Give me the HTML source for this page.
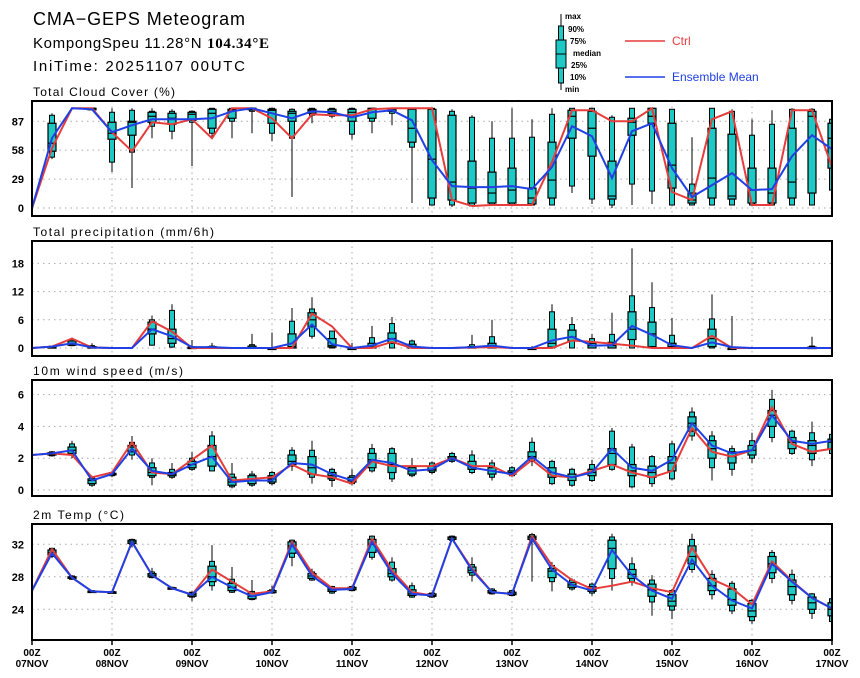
<!DOCTYPE html>
<html><head><meta charset="utf-8"><style>
html,body{margin:0;padding:0;background:#fff;}
svg{display:block;font-family:"Liberation Sans",sans-serif;}
</style></head><body>
<svg id="chart" width="860" height="678" viewBox="0 0 860 678" xmlns="http://www.w3.org/2000/svg">
<rect width="860" height="678" fill="#fff"/>
<text x="33" y="25" font-size="18" textLength="212" lengthAdjust="spacing">CMA−GEPS Meteogram</text>
<text x="33" y="48" font-size="15" textLength="236" lengthAdjust="spacing">KompongSpeu 11.28°N <tspan font-family="Liberation Serif" font-weight="bold">104.34°E</tspan></text>
<text x="33" y="71" font-size="15" textLength="212" lengthAdjust="spacing">IniTime: 20251107 00UTC</text>
<g>
 <line x1="561" y1="14" x2="561" y2="90" stroke="#000" stroke-width="1"/>
 <rect x="558.5" y="26" width="5" height="57" fill="#1ec8c4" stroke="#000"/>
 <rect x="556" y="40" width="10" height="28" fill="#1ec8c4" stroke="#000"/>
 <line x1="556" y1="54" x2="566" y2="54" stroke="#000"/>
 <g font-size="8" font-weight="bold">
 <text x="565" y="19">max</text><text x="568" y="32">90%</text><text x="570" y="44">75%</text>
 <text x="573" y="56">median</text><text x="571" y="68">25%</text><text x="570" y="80">10%</text><text x="565" y="92">min</text></g>
 <line x1="625" y1="41" x2="665" y2="41" stroke="#e63c3c" stroke-width="1.5"/>
 <text x="672" y="45" font-size="12" fill="#e63c3c">Ctrl</text>
 <line x1="625" y1="77" x2="665" y2="77" stroke="#2040e6" stroke-width="1.5"/>
 <text x="672" y="81" font-size="12" fill="#2040e6">Ensemble Mean</text>
</g>
<g id="plots"></g>
</svg>
<script>
// ---- Cloud cover data ----
const cloudMin=[0,49,100,98,36,20,70,69,42,70,70,75,67,11,85,90,69,75,83,5,3,1,2,3,2,2,3,15,4,0,3,4,3,3,3,3,3,3,3,3,3];
const cloudP10=[0,51,100,99,46,56,82,77,86,75,87,97,75,70,93,92,74,87,95,61,3,3,2,3,3,3,3,22,9,3,24,17,3,3,3,3,3,3,3,3,18];
const cloudP25=[0,57,100,100,69,73,86,84,88,80,90,99,85,87,95,95,87,90,97,66,10,8,5,5,5,4,10,70,52,9,73,85,20,5,10,9,5,5,10,15,40];
const cloudMed=[0,65,100,100,75,86,92,90,94,95,98,100,98,95,98,97,96,99,99,80,49,26,20,15,18,10,28,92,80,12,86,92,43,8,30,12,18,15,26,92,70];
const cloudP75=[0,85,100,100,86,87,96,95,96,99,99,100,99,97,99,99,99,100,100,99,99,93,47,36,40,20,66,98,97,47,90,100,85,15,80,74,40,40,80,97,85];
const cloudP90=[0,93,100,100,96,98,97,97,97,100,100,100,100,99,100,100,100,100,100,100,100,97,91,70,70,71,94,100,100,91,100,100,99,24,100,97,73,84,99,99,89];
const cloudMax=[0,95,100,100,100,100,100,99,98,100,100,100,100,100,100,100,100,100,100,100,100,99,93,87,100,89,100,100,100,93,100,100,99,71,100,99,89,98,100,100,95];
const cloudCtrl=[0,60,100,100,76,57,86,84,89,70,100,100,90,70,94,93,93,99,100,100,100,8,2,3,3,3,46,98,98,87,87,100,16,8,89,97,3,3,98,98,41];
const cloudMean=[0,70,100,99,76,83,89,89,89,90,97,100,95,90,97,96,91,96,98,88,48,22,21,21,22,19,41,82,72,30,77,85,40,11,23,35,18,19,52,73,59];
// ---- Precipitation data ----
const precMin=[0,0.1,0.4,0,0,0,0.5,0,0,0,0,0,0,0,2,0,0,0,0,0,0,0,0,0,0,0,0,0,0,0,0,0,0,0,0,0,0,0,0,0,0];
const precP10=[0,0.2,0.5,0,0,0,0.6,0.2,0,0,0,0,0,0,2.5,0,0,0,0,0,0,0,0,0,0,0,0,0,0,0,0,0,0,0,0,0,0,0,0,0,0];
const precP25=[0,0.2,0.6,0,0,0,3,1,0,0,0,0,0,0,4.5,0.2,0,0,1,0,0,0,0,0,0,0,0.2,1.5,0,0,1.8,0.3,0,0,0.3,0,0,0,0,0,0];
const precMed=[0,0.3,1,0.1,0,0,4,2,0.1,0.1,0,0.1,0,0.3,6,0.5,0,0.3,2,0.2,0,0,0.1,0.3,0,0,1,2.3,0.5,0.5,4,3,0.3,0,2,0,0,0,0,0.1,0];
const precP75=[0,0.3,1.5,0.3,0,0,5.5,4,0.2,0.3,0,0.4,0,3,7.5,2,0,1,3.2,0.8,0,0,0.3,1,0,0,4,3.8,1,1.2,7.7,5.5,1,0,4,0,0,0,0,0.2,0];
const precP90=[0,0.4,1.8,0.5,0,0,6,8,0.3,0.4,0,0.7,0,5.7,8.3,3.6,0,2.2,5.2,1.5,0,0,0.7,2.4,0,0,7.7,5,2,2.9,11.1,8.6,2.7,0,6.2,0.1,0,0,0,0.4,0];
const precMax=[0,0.5,2.2,1,0,0,6.9,9.3,1.7,1.1,0,3,3.3,8.5,10.8,3.6,1.1,4.7,6.6,1.8,0,0,2.8,6,0,0.4,9.3,6.6,3,7.5,21.2,14,6.4,0,11.4,6.8,0,0,0,2.4,0];
const precCtrl=[0,0.3,2,0.1,0,0,5.7,3.5,0,0,0,0,0,0,7.3,4.6,0,0,1.3,0,0,0,0.1,0.2,0,0,0,1.6,1.3,0.9,0.5,0,0,0,2.6,0,0,0,0,0,0];
const precMean=[0,0.3,1,0.1,0,0,4,2.5,0.2,0.2,0,0,0,1,5,0.8,0,0.5,2,0.3,0,0,0.2,0.5,0,0,1.6,2.4,0.5,0.6,4.7,2.8,0.6,0,1.2,0.2,0,0,0,0,0];
// ---- Wind data ----
const windMin=[2.2,2.1,2.0,0.2,0.8,1.9,0.3,0.7,1.2,1.2,0.1,0.2,0.3,1.2,0.4,0.2,0.3,1.1,0.5,0.8,1.0,1.7,1.0,0.6,0.8,1.5,0.3,0.2,0.5,1.2,0.1,0.2,0.6,3.1,0.6,0.9,1.7,3.0,2.2,1.5,2.0];
const windP10=[2.2,2.15,2.2,0.3,0.9,2.2,0.8,0.8,1.3,1.2,0.2,0.3,0.4,1.5,0.8,0.6,0.4,1.2,0.7,0.9,1.1,1.8,1.1,0.8,0.9,1.8,0.4,0.3,0.6,1.3,0.2,0.4,0.7,3.4,1.4,1.3,2.0,3.3,2.3,1.9,2.3];
const windP25=[2.2,2.2,2.3,0.4,0.95,2.4,0.9,0.9,1.4,1.5,0.3,0.4,0.5,1.6,1.0,0.7,0.5,1.4,1.1,1.0,1.2,1.9,1.3,1.0,1.0,2.0,0.8,0.6,0.9,1.6,0.9,0.8,1.2,3.7,2.0,1.7,2.2,4.0,2.6,2.3,2.6];
const windMed=[2.2,2.3,2.5,0.6,1.0,2.7,1.1,1.0,1.6,2.1,0.5,0.6,0.7,1.8,1.4,0.9,0.6,1.9,1.6,1.2,1.3,2.0,1.5,1.2,1.1,2.1,1.1,0.8,1.1,2.3,1.2,1.1,1.7,4.2,2.6,2.1,2.5,4.7,3.0,2.8,3.0];
const windP75=[2.2,2.35,2.7,0.7,1.05,2.8,1.4,1.1,1.8,2.8,0.8,0.9,0.9,2.2,2.1,1.1,0.8,2.3,2.3,1.4,1.5,2.1,1.8,1.4,1.2,2.4,1.4,1.0,1.3,2.6,1.6,1.5,2.1,4.6,3.1,2.4,2.8,5.0,3.3,3.1,3.2];
const windP90=[2.2,2.4,2.9,0.8,1.1,3.0,1.7,1.3,2.0,3.4,1.0,1.0,1.1,2.5,2.5,1.3,0.9,2.6,2.6,1.5,1.7,2.3,2.2,1.7,1.4,3.0,1.8,1.3,1.6,3.7,2.7,2.1,2.9,4.9,3.4,2.6,3.1,5.7,3.7,3.6,3.5];
const windMax=[2.2,2.45,3.1,0.9,1.2,3.4,2.0,1.7,2.4,3.7,1.7,1.2,1.2,2.7,3.1,1.4,1.3,2.9,2.7,2.0,1.8,2.4,2.5,1.9,1.5,3.3,1.9,1.4,1.9,3.9,2.9,2.2,3.1,5.2,3.7,2.8,3.6,6.3,3.8,4.3,3.9];
const windCtrl=[2.2,2.3,2.2,0.8,1.1,3.0,1.1,1.0,1.9,2.8,0.6,0.7,0.8,1.6,1.0,0.8,0.4,1.8,1.5,1.5,1.5,2.0,1.5,1.5,0.9,1.9,0.9,0.8,1.2,1.6,1.1,0.8,1.2,3.9,2.4,2.1,2.5,5.2,2.9,2.4,2.6];
const windMean=[2.2,2.3,2.5,0.6,1.0,2.6,1.2,1.0,1.6,2.1,0.5,0.6,0.6,1.7,1.6,1.0,0.6,1.9,1.7,1.2,1.3,2.0,1.4,1.2,1.0,2.1,1.1,0.8,1.1,2.6,1.4,1.2,1.9,4.2,2.8,2.3,2.5,4.7,3.1,2.9,3.1];
// ---- Temperature data ----
const tempMin=[26.3,30.3,27.6,26.1,26.0,31.6,27.8,26.5,25.0,26.3,26.0,25.1,25.9,29.3,27.5,25.9,26.2,30.1,27.4,25.4,25.4,32.4,27.4,25.8,25.6,27.4,26.2,26.3,25.7,26.3,26.9,23.2,22.8,28.5,25.2,23.4,22.2,27.2,24.6,22.8,22.3];
const tempP10=[26.3,30.5,27.7,26.1,26.0,32.0,27.9,26.5,25.5,26.9,26.1,25.2,26.0,30.4,27.6,26.0,26.3,30.4,27.6,25.5,25.5,32.5,28.2,25.9,25.7,32.5,27.4,26.5,26.0,27.8,27.4,24.9,23.9,28.9,25.8,23.8,22.6,27.8,25.1,23.5,22.5];
const tempP25=[26.3,30.7,27.8,26.15,26.05,32.1,28.0,26.55,25.6,27.4,26.3,25.3,26.05,30.9,27.8,26.2,26.4,31.0,28.0,25.7,25.6,32.6,28.5,26.0,25.8,32.6,27.9,26.7,26.2,29.0,27.8,25.6,24.4,29.6,26.3,24.5,23.1,28.5,25.8,24.0,23.2];
const tempMed=[26.3,31.0,27.9,26.2,26.1,32.3,28.2,26.6,25.8,28.0,26.7,25.6,26.1,31.8,28.1,26.4,26.5,32.0,28.4,25.9,25.7,32.8,28.8,26.1,25.9,32.8,28.7,27.0,26.4,31.5,28.3,26.4,25.0,30.5,26.9,25.2,23.8,29.6,26.8,24.8,24.0];
const tempP75=[26.3,31.3,28.0,26.25,26.15,32.5,28.4,26.65,26.0,29.3,27.2,26.0,26.3,32.3,28.4,26.6,26.7,32.6,29.0,26.4,25.9,32.9,29.2,26.3,26.1,33.0,29.0,27.3,26.8,32.5,28.9,27.1,25.8,31.8,27.8,26.5,24.7,30.5,27.6,25.5,24.8];
const tempP90=[26.3,31.5,28.1,26.3,26.2,32.6,28.6,26.7,26.1,29.9,27.7,26.2,26.4,32.5,28.6,26.8,26.8,33.0,29.8,26.9,26.0,33.0,29.5,26.5,26.3,33.2,29.4,27.6,27.1,32.9,29.6,27.6,26.3,32.6,28.3,27.2,25.1,31.0,28.3,25.9,25.3];
const tempMax=[26.3,31.6,28.2,26.3,26.2,32.7,29.1,26.8,26.2,31.9,29.2,27.6,26.9,32.6,29.0,26.9,26.9,33.1,30.4,27.3,26.1,33.1,30.4,26.6,26.4,33.4,29.8,27.8,27.3,33.3,30.4,28.2,26.5,33.3,28.8,27.5,25.3,31.3,28.9,26.0,25.5];
const tempCtrl=[26.3,31.4,27.9,26.2,26.1,32.3,28.2,26.6,25.8,28.9,27.4,25.9,26.2,32.3,28.5,26.6,26.6,32.7,28.8,26.1,25.7,32.7,29.0,26.1,25.9,33.0,29.4,27.6,26.5,26.9,27.4,26.6,26.1,31.6,27.7,26.6,24.6,29.9,27.5,25.4,24.1];
const tempMean=[26.3,30.9,27.9,26.2,26.1,32.3,28.2,26.6,25.8,28.0,26.7,25.6,26.1,32.0,28.1,26.4,26.5,32.3,28.4,25.9,25.7,32.7,28.8,26.1,25.9,32.7,28.9,27.0,26.3,31.3,28.2,26.3,25.3,30.1,26.9,25.1,24.1,29.6,27.4,25.4,24.1];
const dayLabels=["07NOV","08NOV","09NOV","10NOV","11NOV","12NOV","13NOV","14NOV","15NOV","16NOV","17NOV"];
const cloudTicks=[0,29,58,87], precTicks=[0,6,12,18], windTicks=[0,2,4,6], tempTicks=[24,28,32];

const NS="http://www.w3.org/2000/svg";
const X0=32, X1=832, NSTEP=40;
function xAt(i){return X0+(X1-X0)*i/NSTEP;}
function mk(tag,attrs,parent){const e=document.createElementNS(NS,tag);for(const k in attrs)e.setAttribute(k,attrs[k]);parent.appendChild(e);return e;}
const root=document.getElementById('plots');

const panels=[
 {name:'cloud-cover',title:'Total Cloud Cover (%)',tl:142,top:101,bot:216,y0:208,v0:0,k:0.997,ticks:cloudTicks,mn:cloudMin,p10:cloudP10,p25:cloudP25,md:cloudMed,p75:cloudP75,p90:cloudP90,mx:cloudMax,ctrl:cloudCtrl,mean:cloudMean},
 {name:'precipitation',title:'Total precipitation (mm/6h)',tl:181,top:241,bot:356,y0:348,v0:0,k:4.7,ticks:precTicks,mn:precMin,p10:precP10,p25:precP25,md:precMed,p75:precP75,p90:precP90,mx:precMax,ctrl:precCtrl,mean:precMean},
 {name:'wind-speed',title:'10m wind speed (m/s)',tl:150,top:380,bot:496,y0:490,v0:0,k:15.9,ticks:windTicks,mn:windMin,p10:windP10,p25:windP25,md:windMed,p75:windP75,p90:windP90,mx:windMax,ctrl:windCtrl,mean:windMean},
 {name:'temperature',title:'2m Temp (°C)',tl:91,top:524,bot:640,y0:544.3,v0:32,k:8.125,ticks:tempTicks,mn:tempMin,p10:tempP10,p25:tempP25,md:tempMed,p75:tempP75,p90:tempP90,mx:tempMax,ctrl:tempCtrl,mean:tempMean}
];

panels.forEach((p,pi)=>{
 const y=v=>p.y0-(v-p.v0)*p.k;
 const g=mk('g',{},root);
 
 
 const t=mk('text',{x:33,y:p.top-5,'font-size':12,textLength:p.tl,lengthAdjust:'spacing'},g); t.textContent=p.title;
 
 
 const cp=mk('clipPath',{id:'clip'+pi},g);
 mk('rect',{x:X0,y:p.top,width:X1-X0,height:p.bot-p.top},cp);
 p.ticks.forEach(v=>{
  const gl=mk('line',{x1:X0,x2:X1,y1:y(v),y2:y(v),stroke:'#aaa','stroke-width':1,'stroke-dasharray':'1.5 4'},g);
  
  
  const tl=mk('text',{x:24,y:y(v)+4,'font-size':11,'font-weight':'bold','text-anchor':'end'},g); tl.textContent=v;
  
  
 });
 for(let d=1;d<dayLabels.length-1;d++){
  const xx=xAt(d*4);
  const vl=mk('line',{x1:xx,x2:xx,y1:p.top,y2:p.bot,stroke:'#aaa','stroke-width':1,'stroke-dasharray':'1.5 4'},g);
  
  
 }
 const cg=mk('g',{'clip-path':'url(#clip'+pi+')'},g);
 for(let i=0;i<=NSTEP;i++){
  const xx=xAt(i);
  if(p.mx[i]-p.mn[i]<=0) continue;
  const bg=mk('g',{},cg);
  
  
  mk('line',{x1:xx,x2:xx,y1:y(p.mx[i]),y2:y(p.mn[i]),stroke:'#000','stroke-width':1},bg);
  mk('rect',{x:xx-2.5,y:y(p.p90[i]),width:5,height:Math.max(1.5,y(p.p10[i])-y(p.p90[i])),fill:'#1ec8c4',stroke:'#000','stroke-width':1},bg);
  mk('rect',{x:xx-4,y:y(p.p75[i]),width:8,height:Math.max(1.5,y(p.p25[i])-y(p.p75[i])),fill:'#1ec8c4',stroke:'#000','stroke-width':1.2},bg);
  mk('line',{x1:xx-4,x2:xx+4,y1:y(p.md[i]),y2:y(p.md[i]),stroke:'#000','stroke-width':1.2},bg);
 }
 const pts=a=>a.map((v,i)=>xAt(i).toFixed(1)+','+y(v).toFixed(1)).join(' ');
 const rl=mk('polyline',{points:pts(p.ctrl),fill:'none',stroke:'#e63c3c','stroke-width':2},cg);
 
 
 const bl=mk('polyline',{points:pts(p.mean),fill:'none',stroke:'#2040e6','stroke-width':2},cg);
 
 
 const fr=mk('rect',{x:X0,y:p.top,width:X1-X0,height:p.bot-p.top,fill:'none',stroke:'#000','stroke-width':2},g);
 
 
});
const ax=mk('g',{},root);


dayLabels.forEach((lab,d)=>{
 const xx=xAt(d*4);
 mk('line',{x1:xx,x2:xx,y1:640,y2:645,stroke:'#000','stroke-width':1.5},ax);
 const t1=mk('text',{x:xx,y:656,'font-size':10,'font-weight':'bold','text-anchor':'middle'},ax); t1.textContent='00Z';
 
 
 const t2=mk('text',{x:xx,y:667,'font-size':10,'font-weight':'bold','text-anchor':'middle'},ax); t2.textContent=lab;
 
 
});
</script>
</body></html>
